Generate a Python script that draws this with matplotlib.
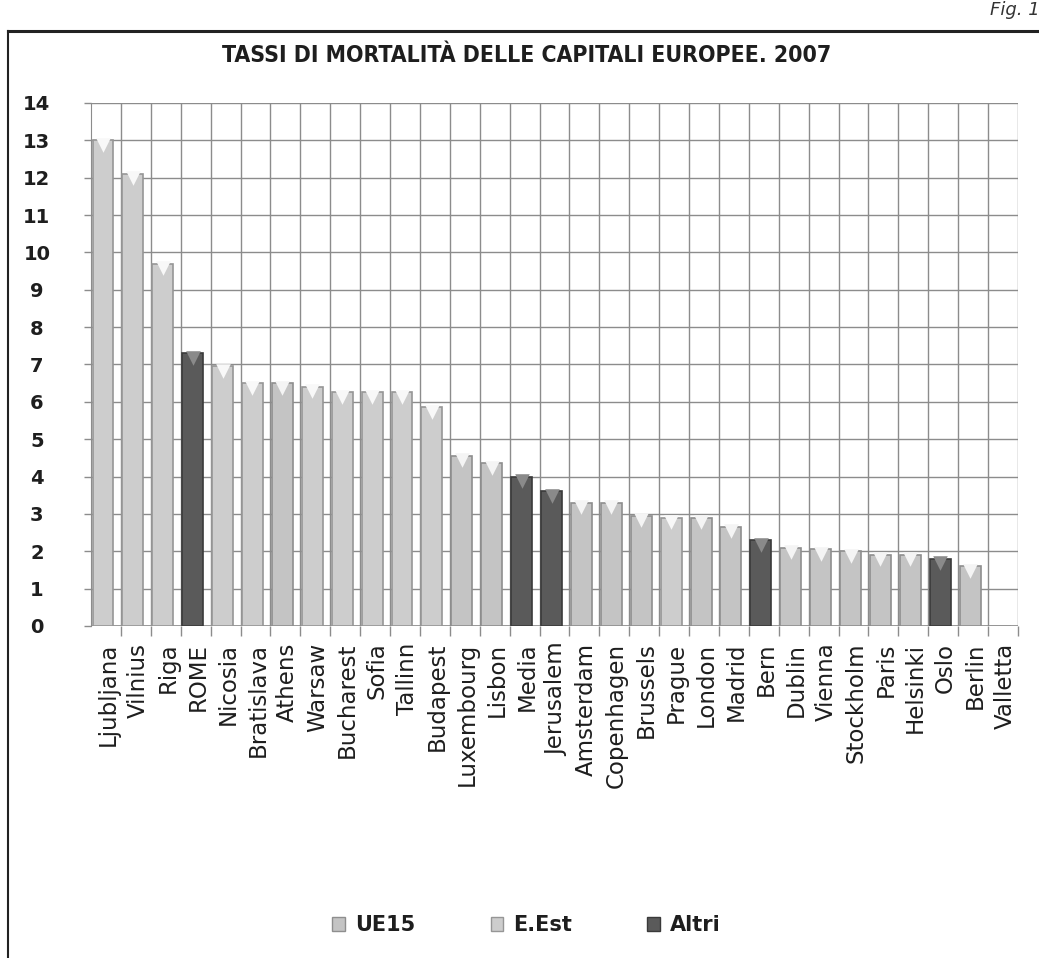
import numpy as np
import matplotlib.pyplot as plt
from matplotlib.patches import Patch
from matplotlib.lines import Line2D

# Chart data
cities = ['Ljubljana', 'Vilnius', 'Riga', 'ROME', 'Nicosia', 'Bratislava', 'Athens',
          'Warsaw', 'Bucharest', 'Sofia', 'Tallinn', 'Budapest', 'Luxembourg', 'Lisbon',
          'Media', 'Jerusalem', 'Amsterdam', 'Copenhagen', 'Brussels', 'Prague', 'London',
          'Madrid', 'Bern', 'Dublin', 'Vienna', 'Stockholm', 'Paris', 'Helsinki', 'Oslo',
          'Berlin', 'Valletta']
rates = [13.0, 12.1, 9.7, 7.3, 6.95, 6.5, 6.5, 6.4, 6.25, 6.25, 6.25, 5.85, 4.55, 4.35,
         4.0, 3.6, 3.3, 3.3, 2.95, 2.9, 2.9, 2.65, 2.3, 2.1, 2.05, 2.0, 1.9, 1.9, 1.8,
         1.6, 0.0]
groups = ['E.Est', 'E.Est', 'E.Est', 'Altri', 'E.Est', 'E.Est', 'UE15', 'E.Est', 'E.Est',
          'E.Est', 'E.Est', 'E.Est', 'UE15', 'UE15', 'Altri', 'Altri', 'UE15', 'UE15',
          'UE15', 'E.Est', 'UE15', 'UE15', 'Altri', 'UE15', 'UE15', 'UE15', 'UE15',
          'UE15', 'Altri', 'UE15', 'E.Est']
group_names = ['UE15', 'E.Est', 'Altri']

colors = {'UE15': '#c4c4c4', 'E.Est': '#cdcdcd', 'Altri': '#5a5a5a'}
edges = {'UE15': '#8e8e8e', 'E.Est': '#969696', 'Altri': '#3a3a3a'}
tops = {'UE15': '#f4f4f4', 'E.Est': '#f8f8f8', 'Altri': '#8a8a8a'}

grid_col = '#8c8c8c'
txt_col = '#1e1e1e'

fig = plt.figure(figsize=(10.39, 9.58), dpi=100)
ax = fig.add_axes([0.0876, 0.3466, 0.8922, 0.5459])

x = np.arange(len(cities))
bar_col = [colors[g] for g in groups]
bar_edge = [edges[g] for g in groups]
ax.bar(x - 0.1, rates, width=0.7, color=bar_col, edgecolor=bar_edge, linewidth=1.2, zorder=3)

# small V-shaped highlight on top of each bar
for g in group_names:
    xs = [xi - 0.1 for xi, gg, r in zip(x, groups, rates) if gg == g and r > 0]
    ys = [r - 0.12 for gg, r in zip(groups, rates) if gg == g and r > 0]
    ax.scatter(xs, ys, marker='v', s=110, color=tops[g], linewidths=0, zorder=4)

ax.set_xlim(-0.5, len(cities) - 0.5)
ax.set_ylim(0, 14)
ax.set_yticks(range(0, 15))
ax.set_xticks(x + 0.08)
ax.set_xticklabels(cities, rotation=90, fontsize=16.5, color=txt_col)
ax.set_xticks(np.arange(len(cities)) + 0.5, minor=True)
ax.tick_params(axis='x', which='major', length=0, pad=12)
ax.tick_params(axis='x', which='minor', length=7, color=grid_col, width=1)
ax.tick_params(axis='y', length=5, color=grid_col, width=1, pad=34, labelsize=14,
               labelcolor=txt_col)
for lab in ax.get_yticklabels():
    lab.set_fontweight('bold')
    lab.set_horizontalalignment('center')

ax.grid(True, axis='y', which='major', color=grid_col, linewidth=1, zorder=0)
ax.grid(True, axis='x', which='minor', color=grid_col, linewidth=1, zorder=0)
for s in ['right', 'bottom', 'top']:
    ax.spines[s].set_visible(False)
ax.spines['left'].set_color(grid_col)
ax.axhline(0, color=grid_col, linewidth=1.2, zorder=2)

fig.text(0.507, 0.942, 'TASSI DI MORTALITÀ DELLE CAPITALI EUROPEE. 2007',
         ha='center', va='center', fontsize=16.5, fontweight='bold', color=txt_col,
         fontstretch='condensed')

handles = [Patch(facecolor=colors[g], edgecolor=edges[g]) for g in group_names]
leg = fig.legend(handles, group_names, loc='center', bbox_to_anchor=(0.507, 0.034),
                 ncol=3, frameon=False, fontsize=15, handlelength=0.6, handleheight=0.6,
                 columnspacing=3.6, handletextpad=0.5)
for t in leg.get_texts():
    t.set_fontweight('bold')
    t.set_color(txt_col)

# outer frame and figure label
fig.add_artist(Line2D([0.008, 1.0], [0.968, 0.968], color='#222222', linewidth=2.2))
fig.add_artist(Line2D([0.008, 0.008], [0.0, 0.968], color='#222222', linewidth=1.5))
fig.text(0.953, 0.99, 'Fig. 1', ha='left', va='center', fontsize=13, style='italic',
         color='#333333')

fig.savefig('out.png', dpi=100)
